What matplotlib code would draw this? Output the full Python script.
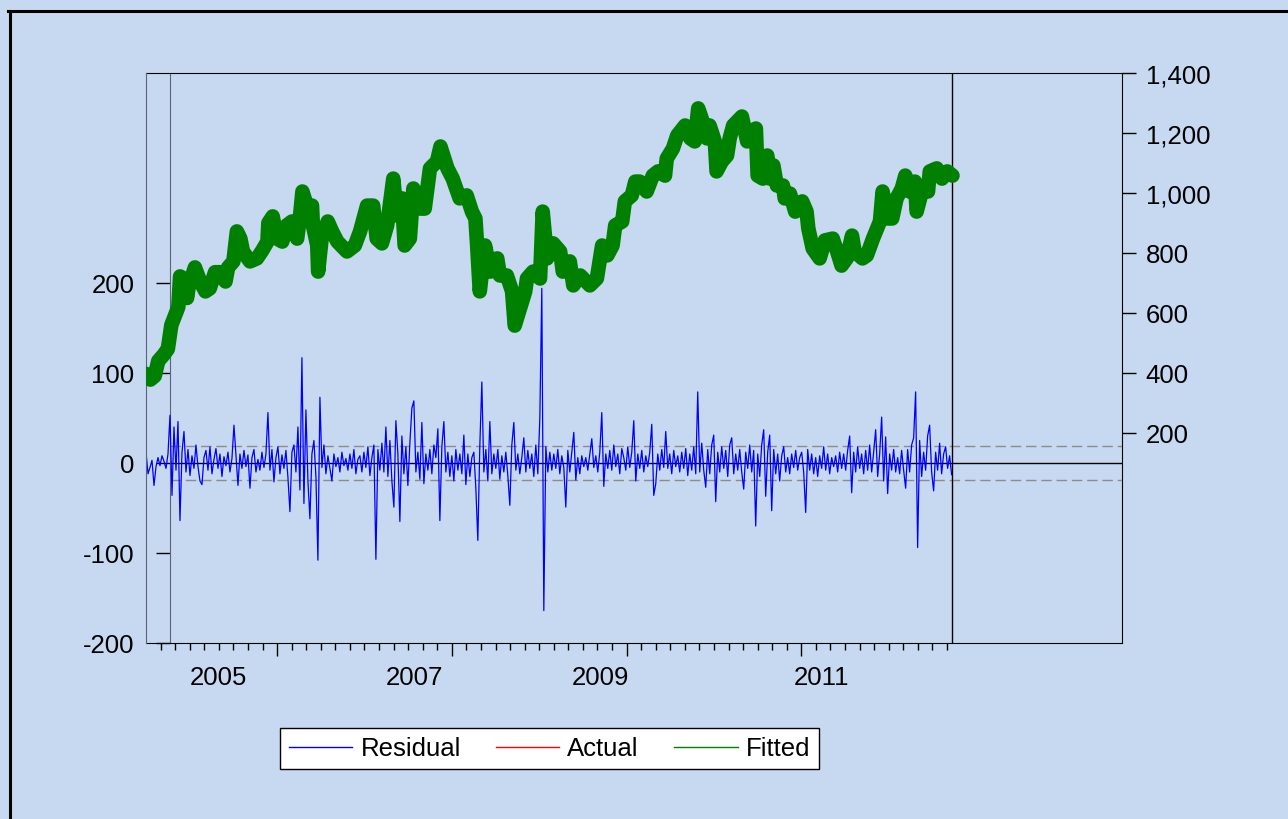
import matplotlib
matplotlib.use('Agg')
import matplotlib.pyplot as plt
from matplotlib.lines import Line2D
from matplotlib.ticker import FixedLocator, FuncFormatter
import numpy as np

plt.rcParams['font.family'] = ['Liberation Sans', 'DejaVu Sans']
plt.rcParams['font.size'] = 18.5
plt.rcParams['axes.unicode_minus'] = False

BG = '#C6D9F0'

# fitted (and actual, hidden under it) -- right axis
fit_x = [2003.49, 2003.55, 2003.60, 2003.64, 2003.70, 2003.75, 2003.79, 2003.83, 2003.87, 2003.89,
         2003.94, 2003.97, 2003.99, 2004.06, 2004.12, 2004.18, 2004.23, 2004.29, 2004.35, 2004.41,
         2004.44, 2004.50, 2004.54, 2004.58, 2004.61, 2004.69, 2004.77, 2004.83, 2004.89, 2004.90,
         2004.95, 2005.00, 2005.06, 2005.11, 2005.17, 2005.23, 2005.26, 2005.29, 2005.34, 2005.40,
         2005.41, 2005.46, 2005.47, 2005.51, 2005.58, 2005.63, 2005.69, 2005.80, 2005.89, 2005.95,
         2006.03, 2006.10, 2006.14, 2006.20, 2006.26, 2006.33, 2006.37, 2006.43, 2006.46, 2006.52,
         2006.56, 2006.64, 2006.69, 2006.75, 2006.83, 2006.87, 2006.95, 2007.01, 2007.09, 2007.17,
         2007.23, 2007.27, 2007.29, 2007.32, 2007.38, 2007.44, 2007.52, 2007.55, 2007.63, 2007.69,
         2007.72, 2007.78, 2007.84, 2007.86, 2007.93, 2008.01, 2008.04, 2008.09, 2008.16, 2008.24,
         2008.27, 2008.35, 2008.39, 2008.47, 2008.58, 2008.66, 2008.72, 2008.78, 2008.84, 2008.87,
         2008.95, 2008.98, 2009.06, 2009.10, 2009.15, 2009.23, 2009.30, 2009.36, 2009.44, 2009.46,
         2009.53, 2009.58, 2009.67, 2009.73, 2009.78, 2009.82, 2009.86, 2009.92, 2009.95, 2010.01,
         2010.03, 2010.09, 2010.15, 2010.18, 2010.22, 2010.32, 2010.38, 2010.43, 2010.48, 2010.50,
         2010.56, 2010.61, 2010.64, 2010.68, 2010.72, 2010.79, 2010.81, 2010.87, 2010.93, 2011.01,
         2011.06, 2011.08, 2011.13, 2011.21, 2011.27, 2011.36, 2011.41, 2011.46, 2011.52, 2011.58,
         2011.61, 2011.70, 2011.75, 2011.82, 2011.90, 2011.93, 2011.99, 2012.04, 2012.09, 2012.15,
         2012.19, 2012.24, 2012.30, 2012.32, 2012.38, 2012.45, 2012.47, 2012.55, 2012.61, 2012.67,
         2012.73]
fitted = [398, 378, 390, 440, 460, 480, 560, 590, 620, 722,
          712, 650, 690, 752, 705, 672, 682, 736, 736, 705,
          752, 772, 872, 848, 805, 772, 782, 808, 838, 900,
          922, 848, 838, 892, 905, 848, 915, 1005, 958, 958,
          892, 825, 738, 848, 905, 872, 838, 805, 825, 872,
          958, 958, 848, 832, 892, 1048, 925, 982, 825, 848,
          1015, 948, 948, 1082, 1105, 1155, 1082, 1048, 982, 992,
          938, 915, 825, 672, 825, 738, 782, 725, 725, 672,
          558, 615, 672, 715, 738, 715, 938, 782, 832, 805,
          738, 772, 692, 725, 692, 715, 825, 792, 825, 892,
          905, 972, 992, 1038, 1038, 1005, 1058, 1072, 1058, 1115,
          1148, 1192, 1225, 1182, 1172, 1282, 1248, 1182, 1225, 1172,
          1072, 1105, 1125, 1182, 1225, 1255, 1172, 1205, 1215, 1058,
          1048, 1125, 1048, 1092, 1025, 1025, 982, 998, 938, 972,
          938, 882, 815, 782, 842, 848, 805, 758, 782, 858,
          805, 782, 792, 848, 905, 1005, 915, 915, 982, 1015,
          1058, 1005, 1038, 938, 1005, 1005, 1072, 1082, 1048, 1072,
          1058]
actual = fitted

# residual -- left axis, evenly spaced over the sample
resid_start, resid_end = 2003.50, 2012.72
residual = [
    12, -12, -5, 3, -25, -4, 6, -3, 8, 2, -6, 10, 53, -36, 40, -8, 46, -64, 12, 35,
    -10, 15, -14, 8, -6, 20, -4, -20, -24, 6, 14, -8, 18, -12, 4, 16, -6, 10, -15, 7,
    -3, 12, -10, 5, 42, 8, -25, 10, -6, 14, -4, 9, -28, 6, 15, -10, 4, -8, 12, -5,
    10, 56, -8, 15, -21, 6, 18, -12, 9, -6, 14, -16, -54, 12, 20, -10, 40, -30, 117, -45,
    59, -20, -62, 10, 25, -15, -108, 73, -5, 20, -12, 8, -6, -20, 10, -4, 6, -10, 12, -3,
    5, -8, 10, -6, 15, -12, 4, 8, -10, 12, -5, 18, -14, 6, 20, -107, 15, -8, 22, -10,
    40, -15, 25, -20, -49, 47, 10, -65, 30, -12, 18, -25, 22, 61, 69, -10, 12, -18, 45, -23,
    10, -8, 15, -12, 20, 6, 38, -64, 18, 46, -10, 12, -15, 8, -20, 15, -8, 10, -12, 31,
    -24, 10, -15, 6, 12, -28, -86, 20, 90, -10, 15, -20, 46, -12, 10, -6, 15, -18, 8, -10,
    12, -14, -47, 20, 45, -8, 10, -12, 6, 28, -10, 14, -6, 10, -15, 20, -12, 49, 194, -164,
    18, -10, 12, -8, 10, -6, 15, -12, 8, -5, -49, 14, -10, 12, 34, -19, 6, -12, 8, -4,
    6, -8, 10, 27, -5, 8, -10, 12, 56, -26, 10, -6, 14, -8, 20, -4, 10, -12, 16, 6,
    -8, 18, -5, 12, 47, -20, 10, -6, 14, -10, 8, -4, 12, 43, -36, -23, 10, -8, 15, -5,
    35, -6, 10, -12, 14, -4, 8, -10, 12, -6, 16, -14, 10, -8, 18, -12, 79, -10, 22, -8,
    -27, 15, -12, 20, 31, -43, 12, -10, 18, -6, 14, -15, 20, 28, -12, 10, -8, 15, -10, -29,
    12, -6, 20, -10, 14, -70, 10, -15, 20, 37, -37, 12, 31, -53, 15, -12, 10, -20, 8, 18,
    -10, 6, -12, 10, -5, 14, -8, 6, 12, -10, -55, 15, -8, 10, -12, 6, -15, 8, -6, 18,
    -8, 10, -12, 6, -4, 8, -10, 12, -6, 10, -8, 14, 30, -33, 12, -10, 18, -6, 10, -12,
    14, -8, 20, -10, 12, 37, -15, 10, 51, -20, 29, -34, 10, -8, 15, -10, 6, -12, 14, -8,
    -28, 15, -10, 20, 28, 79, -94, 25, -15, 12, -8, 30, 42, -10, -31, 12, -8, 22, -12, 10,
    18, -6, 8, -13]
resid_se = 19

year_labels = ['2005', '2007', '2009', '2011']
year_label_pos = [2004.325, 2006.574, 2008.696, 2011.236]
major_ticks = [2005, 2007, 2009, 2011]

fig = plt.figure(figsize=(12.88, 8.2), dpi=100, facecolor=BG)
ax = fig.add_axes([146/1288, 1-644/820, 976/1288, 570/820])
ax.set_facecolor(BG)
ax2 = ax.twinx()

resid_x = np.linspace(resid_start, resid_end, len(residual))
ax.plot(resid_x, residual, color='#0000FF', lw=0.9, zorder=3)

lx = 24/976
ax.axhline(0, xmin=lx, xmax=1, color='black', lw=1, zorder=2)
for s in (resid_se, -resid_se):
    ax.axhline(s, xmin=lx, xmax=1, color='#8c8c8c', lw=1, dashes=(7.5, 3.5), zorder=2)
ax.axvline(fit_x[-1], color='black', lw=1, zorder=2)

ax2.plot(fit_x, actual, color='red', lw=1.5, zorder=3)
ax2.plot(fit_x, fitted, color='#008000', lw=10.5, solid_joinstyle='round',
         solid_capstyle='round', zorder=4)

ax.set_xlim(2003.50, 2014.67)
ax.set_ylim(-200, 433.3)
ax2.set_ylim(-500, 1400)

# left axis
ax.spines['left'].set_position(('axes', lx))
ax.spines['left'].set_color('#5b6577')
ax.spines['right'].set_visible(False)
ax.set_yticks([-200, -100, 0, 100, 200])
ax.tick_params(axis='y', direction='out', length=10, width=1, pad=15.5, colors='black')

# right axis
ax2.set_yticks([200, 400, 600, 800, 1000, 1200, 1400])
ax2.yaxis.set_major_formatter(FuncFormatter(lambda v, p: f'{v:,.0f}'))
ax2.tick_params(axis='y', direction='out', length=10, width=1, pad=7, colors='black')
ax2.spines['left'].set_color('#5b6577')
ax2.spines['right'].set_color('black')
ax2.spines['top'].set_visible(False)
ax2.spines['bottom'].set_visible(False)

# x axis ticks
minor = [v for v in np.arange(2003 + 4/6, 2012.7, 1/6) if min(abs(v - m) for m in major_ticks) > 0.01]
ax.xaxis.set_major_locator(FixedLocator(major_ticks))
ax.xaxis.set_minor_locator(FixedLocator(minor))
ax.set_xticklabels([''] * len(major_ticks))
ax.tick_params(axis='x', which='major', direction='out', length=9.3, width=1)
ax.tick_params(axis='x', which='minor', direction='out', length=5, width=1)
for lab, pos in zip(year_labels, year_label_pos):
    ax.text(pos, -0.0719, lab, transform=ax.get_xaxis_transform(),
            ha='center', va='baseline')

handles = [Line2D([], [], color='#0000FF', lw=1),
           Line2D([], [], color='red', lw=1),
           Line2D([], [], color='#008000', lw=1)]
leg = fig.legend(handles, ['Residual', 'Actual', 'Fitted'], loc='center',
                 bbox_to_anchor=(549.5/1288, 1-749.5/820), ncol=3, frameon=True,
                 fancybox=False, framealpha=1, handlelength=2.47, handletextpad=0.31,
                 columnspacing=1.37, borderpad=0.35, fontsize=18.5)
leg.get_frame().set_edgecolor('black')
leg.get_frame().set_linewidth(1)
leg.get_frame().set_facecolor('white')

# outer frame edges (left and top)
fig.add_artist(Line2D([9.5/1288, 9.5/1288], [0, 1-11.5/820], transform=fig.transFigure,
                      color='black', lw=2.2))
fig.add_artist(Line2D([8/1288, 1], [1-11.5/820, 1-11.5/820], transform=fig.transFigure,
                      color='black', lw=2.2))

fig.savefig('out.png', dpi=100, facecolor=BG)
